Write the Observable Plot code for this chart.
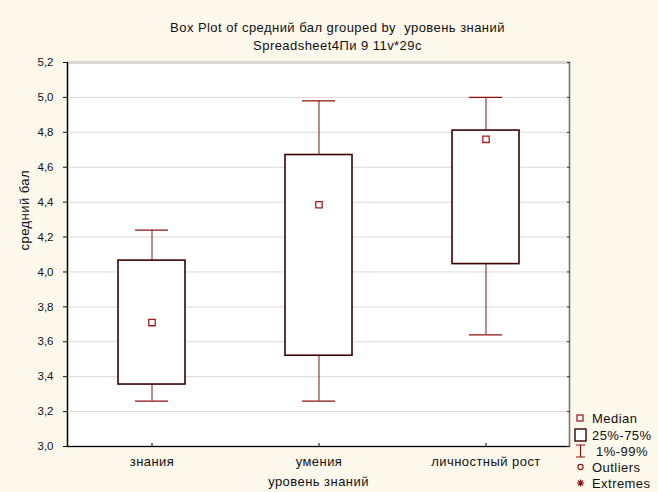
<!DOCTYPE html>
<html>
<head>
<meta charset="utf-8">
<script src="https://cdn.jsdelivr.net/npm/d3@7"></script>
<script src="https://cdn.jsdelivr.net/npm/@observablehq/plot@0.6"></script>
<style>
  html, body { margin: 0; padding: 0; background: #fdf8ec; }
  #wrap { position: relative; width: 658px; height: 492px; overflow: hidden; background: #fdf8ec;
          font-family: "Liberation Sans", Arial, sans-serif; color: #111; }
  #title { position: absolute; left: 0; top: 19px; width: 675px; text-align: center; font-size: 13px; line-height: 18px; letter-spacing: 0.45px; }
  #chart { position: absolute; left: 0; top: 52px; }
  #chart svg { letter-spacing: 0.45px; }
  #legend { position: absolute; left: 574px; top: 409px; letter-spacing: 0.45px; }
</style>
</head>
<body>
<div id="wrap">
  <div id="title">Box Plot of средний бал grouped by&nbsp; уровень знаний<br>Spreadsheet4Пи 9 11v*29c</div>
  <div id="chart"></div>
  <svg id="legend" width="84" height="83" font-family="Liberation Sans, Arial, sans-serif" font-size="13"></svg>
</div>
<script>
const categories = ["знания", "умения", "личностный рост"];
const whiskerLow = [3.26, 3.26, 3.64];
const q1 = [3.355, 3.52, 4.045];
const median = [3.71, 4.385, 4.76];
const q3 = [4.065, 4.67, 4.81];
const whiskerHigh = [4.24, 4.98, 5.00];
const yTicks = [3.0, 3.2, 3.4, 3.6, 3.8, 4.0, 4.2, 4.4, 4.6, 4.8, 5.0, 5.2];
const yLabel = "средний бал";
const xLabel = "уровень знаний";
const legendLabels = ["Median", "25%-75%", " 1%-99%", "Outliers", "Extremes"];

const rows = categories.map((c, i) => ({
  cat: c, lo: whiskerLow[i], q1: q1[i], med: median[i], q3: q3[i], hi: whiskerHigh[i]
}));

const fmt = d => d.toFixed(1).replace(".", ",");
const whiskerColor = "#8e1010";
const boxColor = "#3c0000";

const chart = Plot.plot({
  width: 658,
  height: 440,
  marginLeft: 67,
  marginRight: 89,
  marginTop: 10,
  marginBottom: 46,
  style: { background: "transparent", fontFamily: "Liberation Sans, Arial, sans-serif", fontSize: "13px", color: "#111" },
  x: { domain: categories, paddingInner: 0.6, paddingOuter: 0.3, label: null },
  y: { domain: [3.0, 5.2], label: null },
  marks: [
    Plot.frame({ fill: "white", stroke: "#777", strokeWidth: 1.6 }),
    Plot.gridY(yTicks, { stroke: "#d9d9d9", strokeOpacity: 1 }),
    Plot.frame({ anchor: "left", stroke: "#000", strokeWidth: 1.2 }),
    Plot.frame({ anchor: "bottom", stroke: "#000", strokeWidth: 1.2 }),
    Plot.axisY({ ticks: yTicks, tickFormat: fmt, tickSize: 4, tickPadding: 10, fontSize: 11.5, label: null }),
    Plot.axisY({ anchor: "right", ticks: yTicks, tickSize: 3, dx: -3, tickFormat: () => "", label: null, stroke: "#333" }),
    Plot.axisX({ tickSize: 0, tickPadding: 10, label: null }),
    Plot.axisX({ tickSize: 3, dy: -3, tickFormat: () => "", label: null, stroke: "#000" }),
    Plot.text([yLabel], { text: d => d, frameAnchor: "left", rotate: -90, dx: -43, dy: -4, fill: "#111" }),
    Plot.text([xLabel], { text: d => d, frameAnchor: "bottom", dy: 39, fill: "#111" }),
    Plot.ruleX(rows, { x: "cat", y1: "lo", y2: "q1", stroke: whiskerColor, strokeWidth: 1 }),
    Plot.ruleX(rows, { x: "cat", y1: "q3", y2: "hi", stroke: whiskerColor, strokeWidth: 1 }),
    Plot.tickY(rows, { x: "cat", y: "lo", stroke: whiskerColor, strokeWidth: 1.3, insetLeft: 17, insetRight: 17 }),
    Plot.tickY(rows, { x: "cat", y: "hi", stroke: whiskerColor, strokeWidth: 1.3, insetLeft: 17, insetRight: 17 }),
    Plot.barY(rows, { x: "cat", y1: "q1", y2: "q3", fill: "white", stroke: boxColor, strokeWidth: 1.6 }),
    Plot.dot(rows, { x: "cat", y: "med", symbol: "square", r: 3.6, fill: "white", stroke: "#a51c1c", strokeWidth: 1.3 })
  ]
});
document.getElementById("chart").appendChild(chart);
d3.select(chart).selectAll('g[aria-label="y-axis tick label"]').style("letter-spacing", "0px");

// Legend
const lg = d3.select("#legend");
const rowY = [9, 26, 42, 58, 74];
legendLabels.forEach((t, i) => {
  lg.append("text").attr("x", 18).attr("y", rowY[i]).attr("dy", "0.35em").attr("fill", "#111").style("white-space", "pre").text(t);
});
lg.append("rect").attr("x", 3).attr("y", 6).attr("width", 6).attr("height", 6).attr("fill", "white").attr("stroke", "#a51c1c").attr("stroke-width", 1.3);
lg.append("rect").attr("x", 1).attr("y", 20).attr("width", 11).attr("height", 12).attr("fill", "white").attr("stroke", boxColor).attr("stroke-width", 1.4);
lg.append("path").attr("d", "M2,36H11M6.5,36V48M2,48H11").attr("fill", "none").attr("stroke", whiskerColor).attr("stroke-width", 1.2);
lg.append("circle").attr("cx", 6.5).attr("cy", 58).attr("r", 2.6).attr("fill", "none").attr("stroke", "#8e1010").attr("stroke-width", 1.1);
lg.append("path").attr("d", "M3,74H10M6.5,70.5V77.5M4,71.5L9,76.5M9,71.5L4,76.5").attr("fill", "none").attr("stroke", "#8e1010").attr("stroke-width", 1.1);
</script>
</body>
</html>
